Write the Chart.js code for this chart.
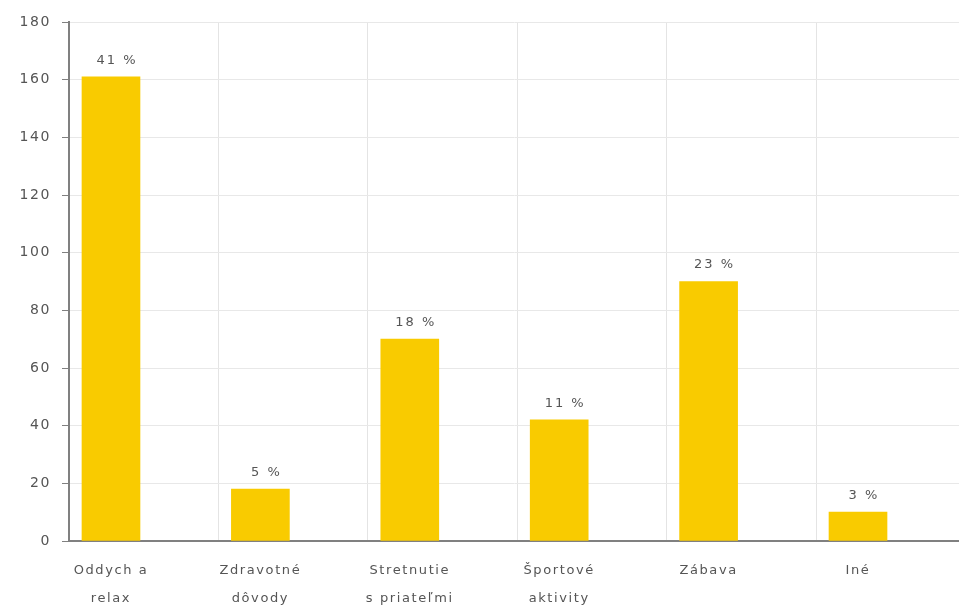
<!DOCTYPE html>
<html>
<head>
<meta charset="utf-8">
<script src="https://cdn.jsdelivr.net/npm/chart.js@4.4.0/dist/chart.umd.min.js"></script>
<style>
  html, body { margin: 0; padding: 0; background: #fff; }
  #wrap { width: 959px; height: 610px; }
</style>
</head>
<body>
<div id="wrap"><canvas id="graf"></canvas></div>
<script>
// Dôvody návštevy - počet odpovedí
const kategorie = [['Oddych a', 'relax'], ['Zdravotné', 'dôvody'], ['Stretnutie', 's priateľmi'], ['Športové', 'aktivity'], ['Zábava'], ['Iné']];
const pocty = [161, 18, 70, 42, 90, 10];
const yTicky = [0, 20, 40, 60, 80, 100, 120, 140, 160, 180];
const mriezkaX = [0.72, 1.72, 2.72, 3.72, 4.72];

const spolu = pocty.reduce((a, b) => a + b, 0);
const percenta = pocty.map(v => Math.round(v / spolu * 100));

const farbaTextu = '#555';
const pismo = 'DejaVu Sans';

// širšie rozostupy písmen pre všetky texty v grafe
const rozostupPlugin = {
  id: 'rozostup',
  beforeDraw(chart) { chart.ctx.letterSpacing = '1.6px'; }
};

// popisky s percentami nad stĺpcami
const popiskyPlugin = {
  id: 'popisky',
  afterDatasetsDraw(chart) {
    const ctx = chart.ctx;
    const meta = chart.getDatasetMeta(0);
    ctx.save();
    ctx.letterSpacing = '2px';
    ctx.font = '13px "' + pismo + '"';
    ctx.fillStyle = farbaTextu;
    ctx.textAlign = 'center';
    ctx.textBaseline = 'bottom';
    meta.data.forEach((bar, i) => {
      ctx.fillText(percenta[i] + ' %', bar.x + 6, bar.y - 10);
    });
    ctx.restore();
  }
};

const jeKategoria = v => Math.abs(v - Math.round(v)) < 1e-6;

new Chart(document.getElementById('graf'), {
  type: 'bar',
  data: {
    datasets: [{
      data: pocty.map((v, i) => ({ x: i, y: v })),
      backgroundColor: '#F9CB00',
      barThickness: 58
    }]
  },
  options: {
    responsive: true,
    maintainAspectRatio: false,
    animation: false,
    layout: { padding: { top: 22, right: 0, left: 0, bottom: 0 } },
    plugins: { legend: { display: false }, tooltip: { enabled: false } },
    scales: {
      x: {
        type: 'linear',
        offset: false,
        min: -0.281,
        max: 5.676,
        afterBuildTicks: s => {
          const vsetky = kategorie.map((k, i) => i).concat(mriezkaX).sort((a, b) => a - b);
          s.ticks = vsetky.map(v => ({ value: v }));
        },
        afterFit: s => { s.height = 69; },
        grid: {
          offset: false,
          drawTicks: false,
          color: c => (c.tick && !jeKategoria(c.tick.value)) ? '#e4e4e4' : 'rgba(0,0,0,0)'
        },
        border: { display: true, color: '#808080', width: 2 },
        ticks: {
          autoSkip: false,
          maxRotation: 0,
          padding: 16,
          color: farbaTextu,
          font: { family: pismo, size: 13, lineHeight: 2.15 },
          callback: v => jeKategoria(v) ? kategorie[Math.round(v)] : ''
        }
      },
      y: {
        min: 0,
        max: 180,
        afterBuildTicks: s => { s.ticks = yTicky.map(v => ({ value: v })); },
        afterFit: s => { s.width = 69; },
        grid: { color: '#e8e8e8', tickLength: 7, tickColor: '#808080' },
        border: { display: true, color: '#808080', width: 2 },
        ticks: {
          padding: 11,
          color: farbaTextu,
          font: { family: pismo, size: 14 }
        }
      }
    }
  },
  plugins: [rozostupPlugin, popiskyPlugin]
});
</script>
</body>
</html>
